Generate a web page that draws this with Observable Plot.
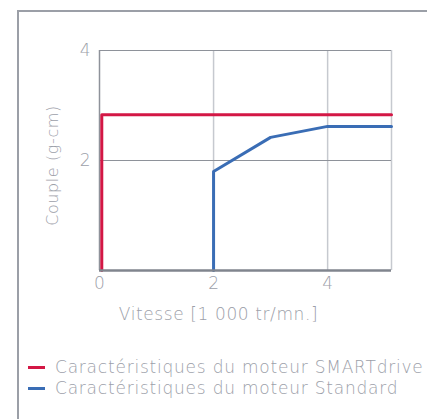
<!DOCTYPE html>
<html>
<head>
<meta charset="utf-8">
<script src="https://cdn.jsdelivr.net/npm/d3@7"></script>
<script src="https://cdn.jsdelivr.net/npm/@observablehq/plot@0.6"></script>
<style>
  html, body { margin: 0; padding: 0; background: #fff; }
  body { width: 427px; height: 419px; position: relative; overflow: hidden; font-family: "DejaVu Sans", sans-serif; }
  #frame { position: absolute; left: 17px; top: 10px; width: 420px; height: 420px;
           border-top: 2px solid #9b9fa7; border-left: 2px solid #9b9fa7; }
  #chart { position: absolute; left: 0; top: 0; }
  #chart g[aria-label="text"] text { letter-spacing: 0.6px; }
  #legend { position: absolute; left: 28px; top: 357px; color: #9ca0a9; font-size: 17px; line-height: 21px; font-weight: 200; letter-spacing: 0.78px; }
  .item { display: flex; align-items: center; white-space: nowrap; }
  .sw { width: 17px; height: 3px; margin-right: 10px; }
</style>
</head>
<body>
<div id="frame"></div>
<div id="chart"></div>
<div id="legend"></div>
<script>
const seriesNames = ["Caractéristiques du moteur SMARTdrive", "Caractéristiques du moteur Standard"];
const seriesColors = ["#d31745", "#3a6db5"];
const smartX = [0.04, 0.04, 5.12];
const smartY = [0, 2.83, 2.83];
const standardX = [2, 2, 3, 4, 5.12];
const standardY = [0, 1.8, 2.42, 2.62, 2.62];
const xTicks = [0, 2, 4];
const yTicks = [2, 4];
const xMax = 5.12;
const yMax = 4;
const xLabel = "Vitesse [1 000 tr/mn.]";
const yLabel = "Couple (g-cm)";

const smart = smartX.map((x, i) => ({x, y: smartY[i]}));
const standard = standardX.map((x, i) => ({x, y: standardY[i]}));

const textColor = "#9ca0a9";
const chart = Plot.plot({
  width: 427,
  height: 340,
  marginLeft: 99,
  marginRight: 36,
  marginTop: 50,
  marginBottom: 70,
  style: {fontFamily: "DejaVu Sans, sans-serif", fontSize: "17px", color: textColor, background: "transparent", fontWeight: 200},
  x: {domain: [0, xMax], ticks: xTicks, label: null},
  y: {domain: [0, yMax], ticks: yTicks, label: null},
  marks: [
    Plot.ruleX([2, 4], {stroke: "#c6c9cf", strokeWidth: 1.5}),
    Plot.ruleX([xMax], {stroke: "#c6c9cf", strokeWidth: 1.5}),
    Plot.ruleY([2], {stroke: "#8e929a", strokeWidth: 1}),
    Plot.ruleY([yMax], {stroke: "#8e929a", strokeWidth: 1.2}),
    Plot.ruleX([0], {stroke: "#8e929a", strokeWidth: 1.5}),
    Plot.line(smart, {x: "x", y: "y", stroke: seriesColors[0], strokeWidth: 3}),
    Plot.line(standard, {x: "x", y: "y", stroke: seriesColors[1], strokeWidth: 3}),
    Plot.ruleY([0], {stroke: "#80858e", strokeWidth: 2.5}),
    Plot.axisX({ticks: xTicks, tickFormat: "d", tickSize: 0, tickPadding: 6, label: null, fill: textColor, fontSize: 17, fontWeight: 200}),
    Plot.axisY({ticks: yTicks, tickFormat: "d", tickSize: 0, tickPadding: 9, label: null, fill: textColor, fontSize: 17, fontWeight: 200}),
    Plot.text([yLabel], {frameAnchor: "left", textAnchor: "middle", dx: -47, dy: 5, rotate: -90, fill: textColor, fontSize: 16, fontWeight: 200}),
    Plot.text([xLabel], {frameAnchor: "bottom", dx: -27, dy: 49, fill: textColor, fontSize: 17, fontWeight: 200})
  ]
});
document.getElementById("chart").append(chart);

const legend = document.getElementById("legend");
seriesNames.forEach((name, i) => {
  const item = document.createElement("div");
  item.className = "item";
  const sw = document.createElement("span");
  sw.className = "sw";
  sw.style.background = seriesColors[i];
  item.append(sw, document.createTextNode(name));
  legend.append(item);
});
</script>
</body>
</html>
